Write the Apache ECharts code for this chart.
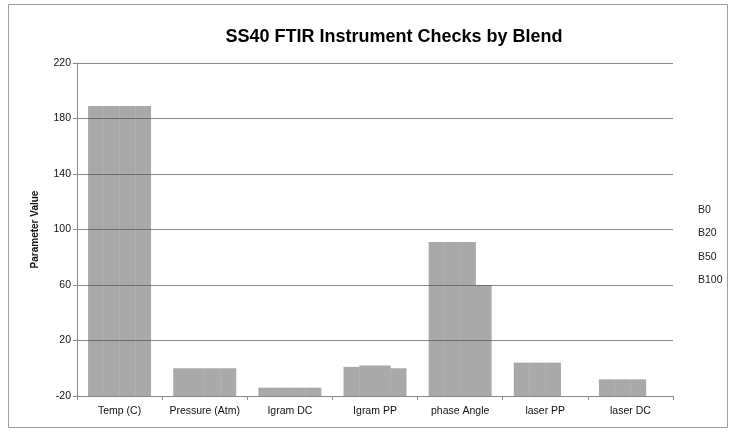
<!DOCTYPE html>
<html>
<head>
<meta charset="utf-8">
<script src="https://cdn.jsdelivr.net/npm/echarts@6/dist/echarts.min.js"></script>
<style>
  html, body { margin: 0; padding: 0; background: #fff; }
  #chart { width: 732px; height: 434px; }
</style>
</head>
<body>
<div id="chart"></div>
<script>
// Instrument check parameters per category
const categories = ['Temp (C)', 'Pressure (Atm)', 'Igram DC', 'Igram PP', 'phase Angle', 'laser PP', 'laser DC'];
const blends = ['B0', 'B20', 'B50', 'B100'];
const b0   = [189, 0, -14, 1, 91, 4, -8];
const b20  = [189, 0, -14, 2, 91, 4, -8];
const b50  = [189, 0, -14, 2, 91, 4, -8];
const b100 = [189, 0, -14, 0, 60, null, null];
const yTicks = [-20, 20, 60, 100, 140, 180, 220];

const yMin = yTicks[0];
const yMax = yTicks[yTicks.length - 1];
const yStep = yTicks[1] - yTicks[0];
const seriesValues = [b0, b20, b50, b100];

const FONT = '"Liberation Sans", Arial, sans-serif';
const barColor = 'rgba(80,80,80,0.49)';

// Bars rise from the bottom of the value axis: a transparent base at the axis
// minimum, with the visible bar stacked on top of it.
const series = [];
blends.forEach((name, i) => {
  const vals = seriesValues[i];
  series.push({
    name: name + '-base',
    type: 'bar',
    stack: 'blend' + i,
    stackStrategy: 'all',
    data: vals.map(v => (v === null ? null : yMin)),
    itemStyle: { color: 'rgba(0,0,0,0)' },
    silent: true,
    barGap: '0%',
    barCategoryGap: '26%'
  });
  series.push({
    name: name,
    type: 'bar',
    stack: 'blend' + i,
    stackStrategy: 'all',
    data: vals.map(v => (v === null ? null : v - yMin)),
    itemStyle: { color: barColor },
    barGap: '0%',
    barCategoryGap: '26%'
  });
});

const chart = echarts.init(document.getElementById('chart'), null, { renderer: 'canvas' });
chart.setOption({
  animation: false,
  backgroundColor: '#ffffff',
  textStyle: { fontFamily: FONT },
  title: {
    text: 'SS40 FTIR Instrument Checks by Blend',
    left: 389,
    textAlign: 'center',
    top: 23,
    textStyle: { fontSize: 18, fontWeight: 'bold', color: '#000', fontFamily: FONT }
  },
  legend: {
    data: blends,
    orient: 'vertical',
    left: 688,
    top: 198,
    icon: 'none',
    itemWidth: 0,
    itemHeight: 14,
    itemGap: 11,
    selectedMode: false,
    textStyle: { fontSize: 10.5, color: '#222', fontFamily: FONT }
  },
  grid: { left: 77, right: 59, top: 63, bottom: 38 },
  xAxis: {
    type: 'category',
    data: categories,
    axisLine: { onZero: false, lineStyle: { color: '#8a8a8a', width: 1 } },
    axisTick: { show: true, length: 4, inside: false, alignWithLabel: false, lineStyle: { color: '#8a8a8a' } },
    axisLabel: { fontSize: 10.5, color: '#111', margin: 10, interval: 0, fontFamily: FONT },
    splitLine: { show: false }
  },
  yAxis: {
    type: 'value',
    min: yMin,
    max: yMax,
    interval: yStep,
    name: 'Parameter Value',
    nameLocation: 'middle',
    nameGap: 37,
    nameRotate: 90,
    nameTextStyle: { fontSize: 10, fontWeight: 'bold', color: '#111', fontFamily: FONT },
    axisLine: { show: true, lineStyle: { color: '#8a8a8a', width: 1 } },
    axisTick: { show: true, length: 4, lineStyle: { color: '#8a8a8a' } },
    axisLabel: { fontSize: 10.5, color: '#111', margin: 6, fontFamily: FONT },
    splitLine: { show: true, lineStyle: { color: '#8a8a8a', width: 1 } }
  },
  graphic: [{
    type: 'rect',
    shape: { x: 8.5, y: 4.5, width: 719, height: 423 },
    style: { fill: 'none', stroke: '#a0a0a0', lineWidth: 1 },
    silent: true,
    z: -1
  }],
  series: series
});
</script>
</body>
</html>
